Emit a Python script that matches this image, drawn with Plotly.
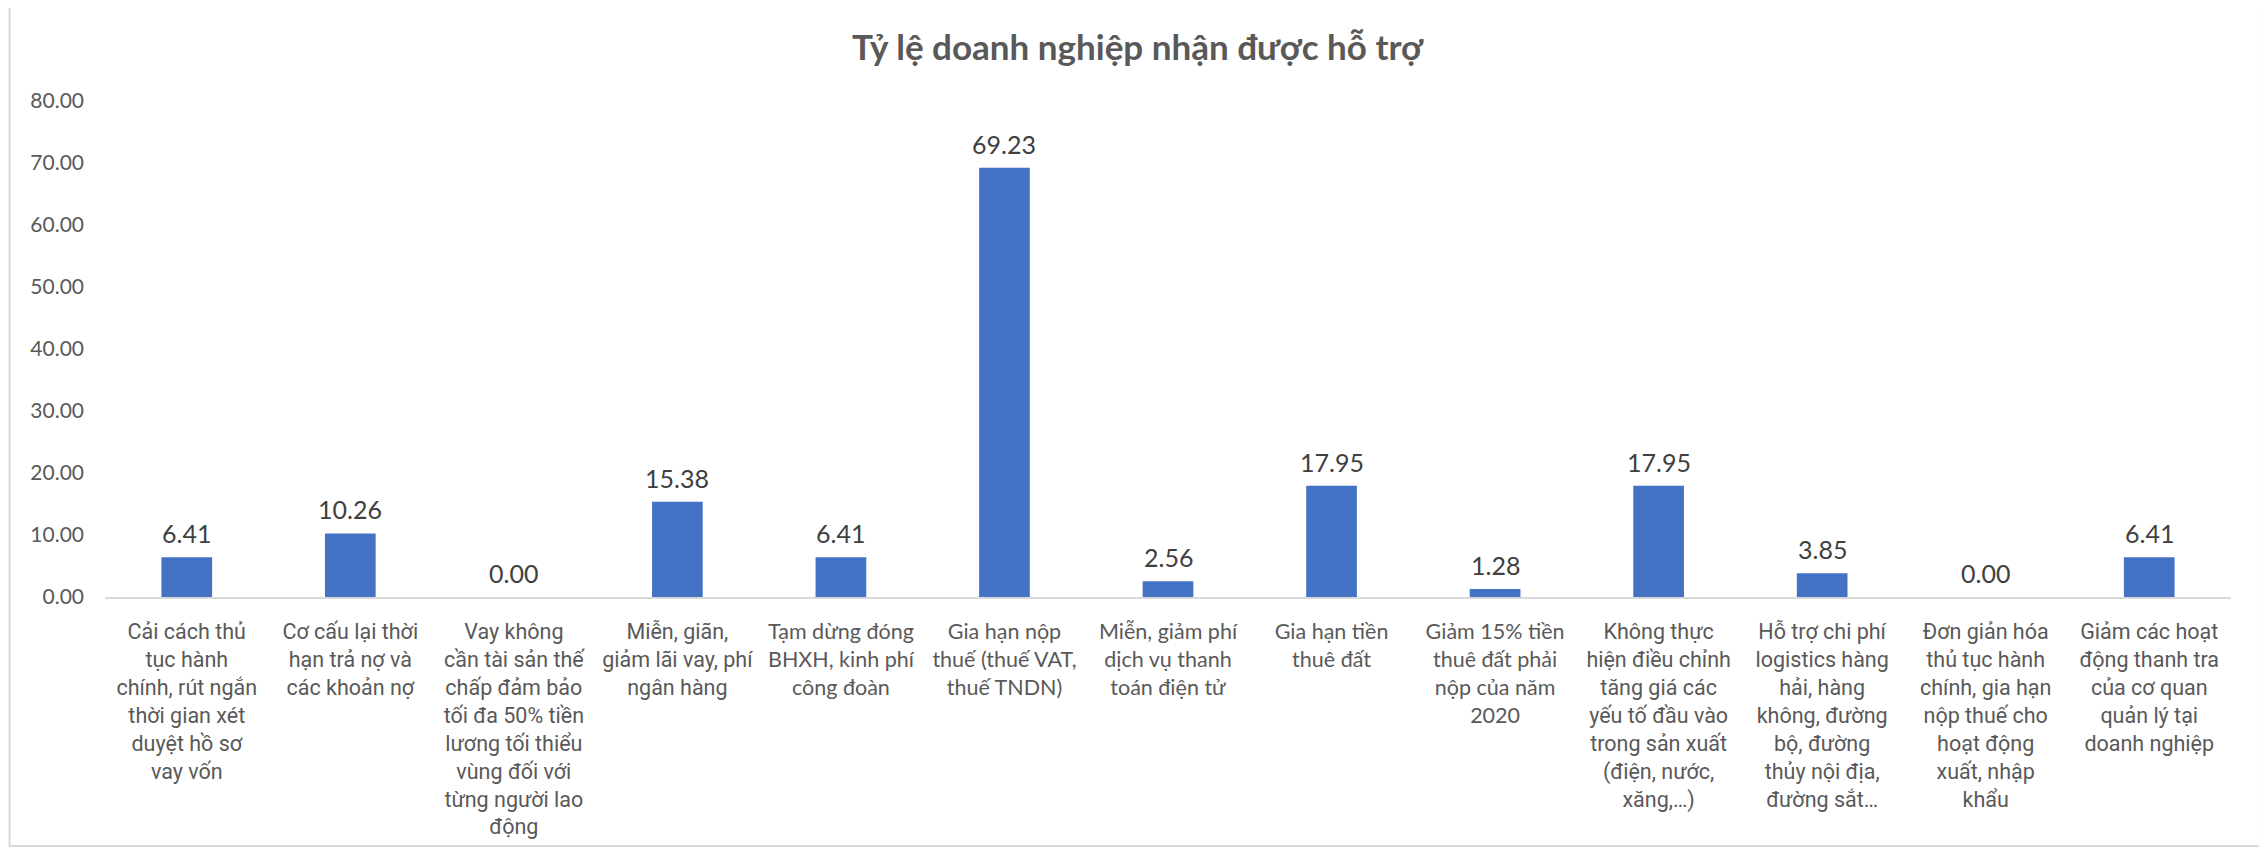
import plotly.graph_objects as go

# Data
categories = [
    "Cải cách thủ<br>tục hành<br>chính, rút ngắn<br>thời gian xét<br>duyệt hồ sơ<br>vay vốn",
    "Cơ cấu lại thời<br>hạn trả nợ và<br>các khoản nợ",
    "Vay không<br>cần tài sản thế<br>chấp đảm bảo<br>tối đa 50% tiền<br>lương tối thiểu<br>vùng đối với<br>từng người lao<br>động",
    "Miễn, giãn,<br>giảm lãi vay, phí<br>ngân hàng",
    "Tạm dừng đóng<br>BHXH, kinh phí<br>công đoàn",
    "Gia hạn nộp<br>thuế (thuế VAT,<br>thuế TNDN)",
    "Miễn, giảm phí<br>dịch vụ thanh<br>toán điện tử",
    "Gia hạn tiền<br>thuê đất",
    "Giảm 15% tiền<br>thuê đất phải<br>nộp của năm<br>2020",
    "Không thực<br>hiện điều chỉnh<br>tăng giá các<br>yếu tố đầu vào<br>trong sản xuất<br>(điện, nước,<br>xăng,…)",
    "Hỗ trợ chi phí<br>logistics hàng<br>hải, hàng<br>không, đường<br>bộ, đường<br>thủy nội địa,<br>đường sắt…",
    "Đơn giản hóa<br>thủ tục hành<br>chính, gia hạn<br>nộp thuế cho<br>hoạt động<br>xuất, nhập<br>khẩu",
    "Giảm các hoạt<br>động thanh tra<br>của cơ quan<br>quản lý tại<br>doanh nghiệp",
]
values = [6.41, 10.26, 0.00, 15.38, 6.41, 69.23, 2.56, 17.95, 1.28, 17.95, 3.85, 0.00, 6.41]
# labels drawn in a Calibri-like face in the original
calibri_like = [False, False, False, False, True, True, True, True, True, False, False, False, False]
y_ticks = [0, 10, 20, 30, 40, 50, 60, 70, 80]

GREY = "#595959"

tick_text = [
    f'<span style="font-family:Lato">{c}</span>' if cal else c
    for c, cal in zip(categories, calibri_like)
]

fig = go.Figure()
fig.add_trace(
    go.Bar(
        x=list(range(len(categories))),
        y=values,
        marker=dict(color="#4472C4", line=dict(width=0)),
        width=0.31,
        hoverinfo="y",
    )
)

# data labels
for i, v in enumerate(values):
    fig.add_annotation(
        x=i,
        y=v,
        text=f"{v:.2f}",
        showarrow=False,
        yanchor="bottom",
        yshift=7,
        font=dict(family="Lato", size=25, color="#404040"),
    )

# chart border
fig.add_shape(
    type="rect",
    xref="paper",
    yref="paper",
    x0=-0.0449,
    x1=1.0136,
    y0=-0.502,
    y1=1.1976,
    line=dict(color="#D9D9D9", width=2),
    layer="below",
)

# page body has an 8px margin, so the figure is 8px smaller
fig.update_layout(
    width=2259,
    height=840,
    margin=dict(l=97, r=36, t=93, b=251),
    paper_bgcolor="white",
    plot_bgcolor="white",
    showlegend=False,
    title=dict(
        text="<b>Tỷ lệ doanh nghiệp nhận được hỗ trợ</b>",
        x=0.5,
        xanchor="center",
        y=1 - 40 / 840,
        yanchor="middle",
        yref="container",
        font=dict(family="Lato", size=35, color=GREY),
    ),
    xaxis=dict(
        tickmode="array",
        tickvals=list(range(len(categories))),
        ticktext=tick_text,
        range=[-0.5, len(categories) - 0.5],
        showline=True,
        linecolor="#D9D9D9",
        linewidth=2,
        showgrid=False,
        ticks="",
        tickangle=0,
        automargin=False,
        ticklabelstandoff=14,
        tickfont=dict(family="Roboto", size=21.5, color=GREY),
    ),
    yaxis=dict(
        range=[0, 80],
        tickvals=y_ticks,
        tickformat=".2f",
        showgrid=False,
        zeroline=False,
        showline=False,
        ticks="",
        automargin=False,
        ticklabelstandoff=20,
        tickfont=dict(family="Lato", size=21, color=GREY),
    ),
)

fig.write_html("out.html")
